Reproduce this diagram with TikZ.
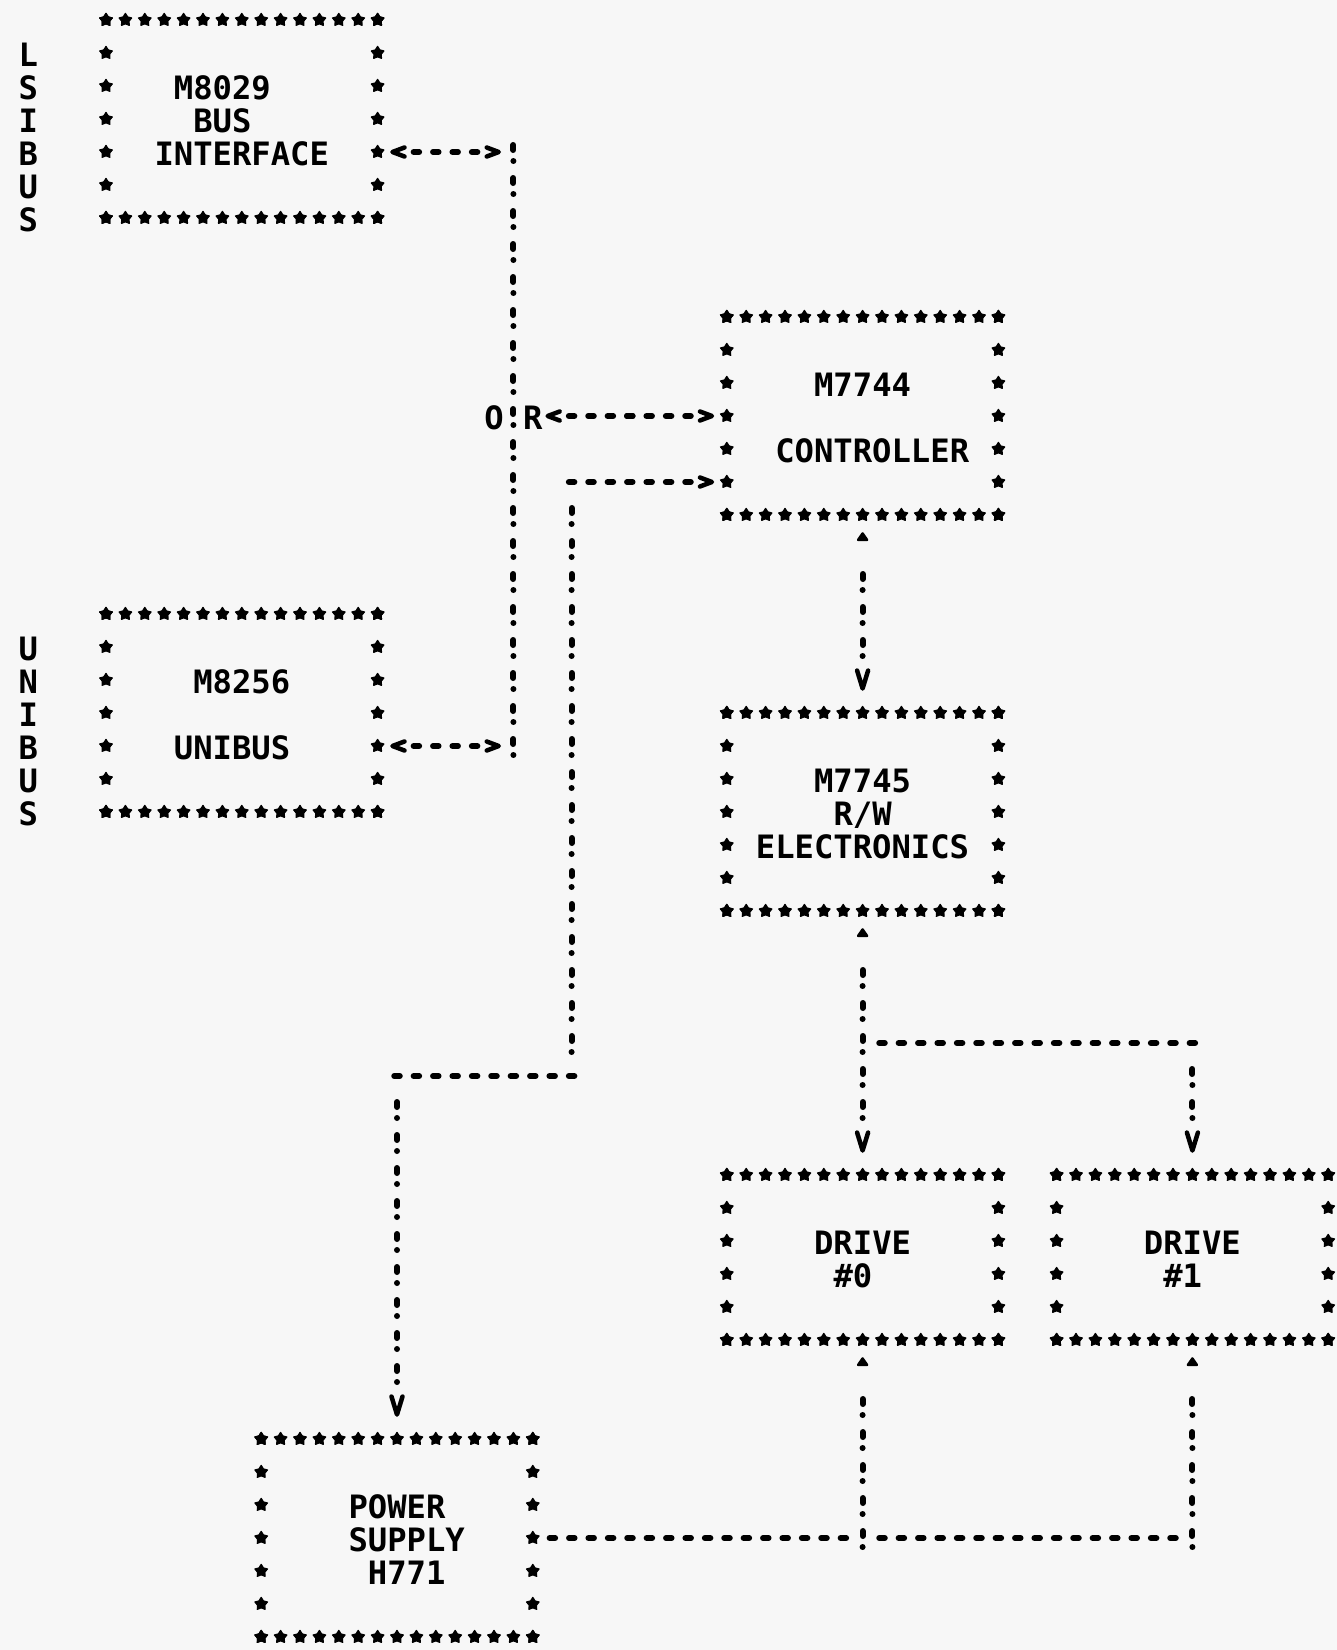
\documentclass[tikz,border=0pt]{standalone}
\usepackage{fontspec}
\newfontfamily\printfont{DejaVu Sans Mono}
\usetikzlibrary{arrows.meta}
\newlength\chw
\setlength\chw{19.4pt}
\newcommand\rs{\rule[-3.25pt]{0pt}{33pt}}
\newcommand\sk[1]{\hspace*{#1\chw}}
\def\reppat#1#2{\ifnum\numexpr#1\relax>0 #2\reppat{#1-1}{#2}\fi}
\newcommand\starbox[4]{%
  \foreach \ci in {#1,...,#3}{\pic at (\ci,#2) {starpic}; \pic at (\ci,#4) {starpic};}%
  \foreach \ri in {#2,...,#4}{\pic at (#1,\ri) {starpic}; \pic at (#3,\ri) {starpic};}%
}
\tikzset{
  starpic/.pic={\filldraw[line width=1.2pt, line join=round]
     (90:6.6pt) -- (126:3.8pt) -- (162:6.6pt) -- (198:3.8pt) -- (234:6.6pt) -- (270:3.8pt)
     -- (306:6.6pt) -- (342:3.8pt) -- (18:6.6pt) -- (54:3.8pt) -- cycle;},
  txt/.style={font=\printfont\bfseries\fontsize{32.2pt}{33pt}\selectfont, inner sep=0pt, text=black},
  boxn/.style={txt, inner xsep=9.7pt, inner ysep=0pt, text width=252.2pt, align=left},
  tallbox/.style={minimum height=198pt},
  shortbox/.style={minimum height=165pt},
  lbl/.style={txt, text height=29.75pt, text depth=3.25pt},
  conn/.style={draw=black, line width=6pt, line cap=round},
  hdash/.style={conn, dash pattern/.expanded={\reppat{#1-1}{on 5.5pt off 13.9pt }on 5.5pt off 2000pt}},
  vdown/.style={conn, dash pattern/.expanded={\reppat{#1-1}{on 5pt off 11pt on 0pt off 17pt }on 5pt off 11pt on 0pt off 2000pt}},
  vup/.style={conn, dash pattern/.expanded={\reppat{#1-1}{on 0pt off 11pt on 5pt off 17pt }on 0pt off 11pt on 5pt off 2000pt}},
  noline/.style={conn, dash pattern=on 0pt off 2000pt, dash phase=1pt},
  barbtip/.tip={Straight Barb[length=12pt,width=9pt,line width=4.5pt,round]},
  veetip/.tip={Straight Barb[length=18pt,width=11pt,line width=4.5pt,round]},
  carettip/.tip={Triangle[length=10pt,width=13pt,line width=2.5pt,round]},
}
\begin{document}
\begin{tikzpicture}[x=19.4pt,y=-33pt]
\fill[black!3] (-28.4pt,20pt) rectangle (1308.6pt,-1630pt);
\useasboundingbox (-28.4pt,20pt) rectangle (1308.6pt,-1630pt);

% side labels
\node[txt, align=center] (lsibus) at (0,3.5) {\rs L\\\rs S\\\rs I\\\rs B\\\rs U\\\rs S};
\node[txt, align=center] (unibus) at (0,21.5) {\rs U\\\rs N\\\rs I\\\rs B\\\rs U\\\rs S};

% boxes
\node[boxn, tallbox] (b1) at (11,3) {\rs\sk{3}M8029\\\rs\sk{4}BUS\\\rs\sk{2}INTERFACE};
\starbox{4}{0}{18}{6}
\node[boxn, tallbox] (b2) at (11,21) {\rs\sk{4}M8256\\\rs\\\rs\sk{3}UNIBUS};
\starbox{4}{18}{18}{24}
\node[boxn, tallbox] (ctl) at (43,12) {\rs\sk{4}M7744\\\rs\\\rs\sk{2}CONTROLLER};
\starbox{36}{9}{50}{15}
\node[boxn, tallbox] (rw) at (43,24) {\rs\sk{4}M7745\\\rs\sk{5}R/W\\\rs\sk{1}ELECTRONICS};
\starbox{36}{21}{50}{27}
\node[boxn, shortbox] (d0) at (43,37.5) {\rs\sk{4}DRIVE\\\rs\sk{5}\#0};
\starbox{36}{35}{50}{40}
\node[boxn, shortbox] (d1) at (60,37.5) {\rs\sk{4}DRIVE\\\rs\sk{5}\#1};
\starbox{53}{35}{67}{40}
\node[boxn, tallbox] (ps) at (19,46) {\rs\sk{4}POWER\\\rs\sk{4}SUPPLY\\\rs\sk{5}H771};
\starbox{12}{43}{26}{49}

% O R labels
\node[lbl] (oo) at (24,12) {O};
\node[lbl] (rr) at (26,12) {R};

% junction coordinates
\coordinate (j1) at (25,4);
\coordinate (j2) at (25,22);
\coordinate (a1) at (22,4);
\coordinate (a2) at (21,4);
\coordinate (a3) at (22,22);
\coordinate (a4) at (21,22);
\coordinate (a5) at (31,12);
\coordinate (k1) at (28,14);
\coordinate (k3) at (28,32);
\coordinate (k4) at (19,32);
\coordinate (e1) at (43,17);
\coordinate (f1) at (43,29);
\coordinate (f2) at (43,31);
\coordinate (f3) at (60,31);
\coordinate (g1) at (43,46);
\coordinate (g2) at (60,46);

% LSI bus interface <-> trunk
\draw[hdash=2, -{barbtip}, shorten >=12.4pt] ([xshift=-2.75pt]a1) -- (j1);
\draw[hdash=2, -{barbtip}, shorten >=12.4pt] ([xshift=2.75pt]a2) -- (b1.east |- a2);
% UNIBUS <-> trunk
\draw[hdash=2, -{barbtip}, shorten >=12.4pt] ([xshift=-2.75pt]a3) -- (j2);
\draw[hdash=2, -{barbtip}, shorten >=12.4pt] ([xshift=2.75pt]a4) -- (b2.east |- a4);
% trunk
\draw[vdown=19] ([yshift=7pt]j1) -- ([yshift=-12pt]j2);
% OR <-> controller
\draw[hdash=4, -{barbtip}, shorten >=12.4pt] ([xshift=-2.75pt]a5) -- (ctl.west |- a5);
\draw[hdash=4, -{barbtip}, shorten >=2.7pt] ([xshift=2.75pt]a5) -- (rr.east);
% power line to controller
\draw[hdash=7, -{barbtip}, shorten >=12.4pt] ([xshift=-2.75pt]k1) -- (ctl.west |- k1);
\draw[vdown=17] ([yshift=-26pt]k1) -- (k3);
\draw[hdash=10] ([xshift=2.75pt]k3) -- ([xshift=-6pt]k4);
\draw[vdown=9, -{veetip}, shorten >=22pt] ([yshift=-26pt]k4) -- (ps.north);
% controller <-> R/W
\draw[vdown=3, -{veetip}, shorten >=22pt] ([yshift=7pt]e1) -- (rw.north);
\draw[noline, -{carettip}, shorten >=17pt] ([yshift=7pt]e1) -- (ctl.south);
% R/W <-> drives
\draw[vdown=5, -{veetip}, shorten >=22pt] ([yshift=7pt]f1) -- (d0.north);
\draw[noline, -{carettip}, shorten >=17pt] ([yshift=7pt]f1) -- (rw.south);
\draw[hdash=17] ([xshift=16.65pt]f2) -- ([xshift=6pt]f3);
\draw[vdown=2, -{veetip}, shorten >=22pt] ([yshift=-26pt]f3) -- (d1.north);
% drives <-> power supply
\draw[vup=5, -{carettip}, shorten >=17pt] ([yshift=-9pt]g1) -- (d0.south);
\draw[vup=5, -{carettip}, shorten >=17pt] ([yshift=-9pt]g2) -- (d1.south);
\draw[hdash=16] ([xshift=16.65pt]ps.east) -- ([xshift=-6pt]g1);
\draw[hdash=16] ([xshift=16.65pt]g1) -- ([xshift=-6pt]g2);
\end{tikzpicture}
\end{document}
